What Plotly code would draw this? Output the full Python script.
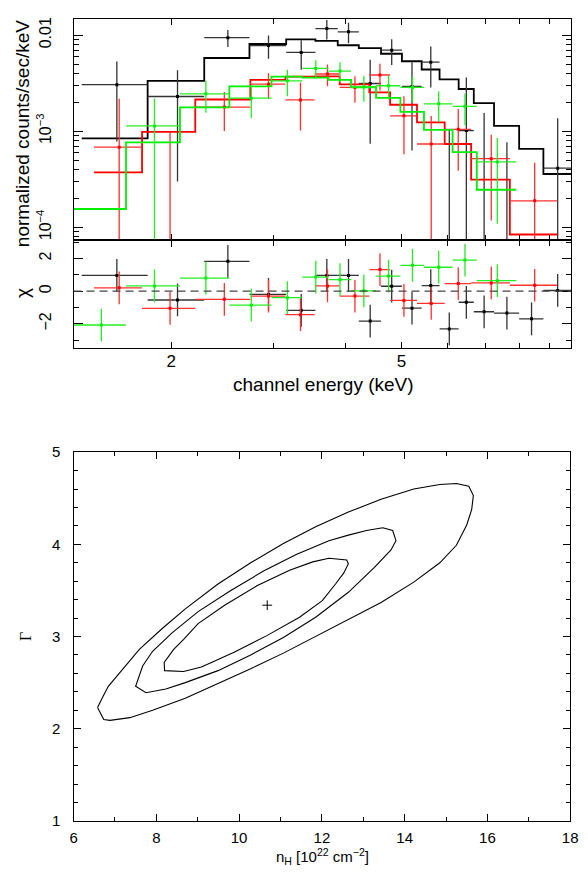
import numpy as np
import plotly.graph_objects as go

# ---------------- spectrum: three data groups (black, red, green) ----------------
# channel bin edges (keV), data (counts/s/keV), 1-sigma errors, folded model, residuals (chi)
black_edges = [1.40, 1.82, 2.28, 2.73, 3.16, 3.55, 3.88, 4.22, 4.61, 5.01, 5.42, 5.82, 6.28, 6.67, 7.23, 7.99, 8.80, 9.83]
black_flux = [3.05e-3, 2.30e-3, 9.41e-3, 7.79e-3, 6.61e-3, 1.171e-2, 1.083e-2, 3.14e-3, 6.98e-3, 2.93e-3,
              5.23e-3, -8.3e-4, 1.016e-3, -2.0e-5, -3.1e-4, -8.7e-4, 4.13e-4]
black_err = [2.27e-3, 2.0e-3, 1.9e-3, 2.1e-3, 2.25e-3, 2.7e-3, 2.6e-3, 2.4e-3, 2.1e-3, 2.3e-3,
             2.37e-3, 1.86e-3, 2.6e-3, 1.57e-3, 1.08e-3, 9.0e-4, 9.5e-4]
black_model = [8.42e-4, 3.345e-3, 5.785e-3, 8.09e-3, 9.04e-3, 8.73e-3, 7.85e-3, 7.31e-3, 6.40e-3, 5.35e-3,
               4.39e-3, 3.47e-3, 2.75e-3, 1.96e-3, 1.135e-3, 6.55e-4, 3.59e-4]
black_resid = [0.96, -0.54, 1.82, -0.2, -1.17, 0.96, 0.96, -1.83, 0.3, -1.04, 0.34, -2.31, -0.68, -1.26, -1.34, -1.69, 0.04]

red_edges = [1.47, 1.78, 2.20, 2.74, 3.15, 3.54, 3.91, 4.40, 4.78, 5.32, 5.94, 6.60, 7.70, 9.30]
red_flux = [6.82e-4, -1.4e-5, 1.786e-3, 3.09e-3, 2.12e-3, 3.94e-3, 2.86e-3, 3.85e-3, 1.446e-3, 7.37e-4,
            1.048e-3, 5.18e-4, 1.886e-4]
red_err = [1.49e-3, 1.0e-3, 7.8e-4, 9.3e-4, 1.1e-3, 1.0e-3, 8.8e-4, 1.2e-3, 8.7e-4, 7.0e-4, 6.6e-4, 4.0e-4, 2.82e-4]
red_model = [3.73e-4, 9.86e-4, 2.14e-3, 3.42e-3, 3.70e-3, 3.73e-3, 3.07e-3, 2.54e-3, 1.886e-3, 1.235e-3,
             7.37e-4, 3.14e-4, 8.42e-5]
red_resid = [0.2, -1.05, -0.5, -0.3, -1.44, 0.32, -0.3, 1.32, -0.57, -0.75, 0.46, 0.5, 0.36]

green_edges = [1.357, 1.67, 2.07, 2.52, 2.98, 3.37, 3.74, 4.09, 4.52, 4.98, 5.47, 6.13, 6.75, 7.90]
green_flux = [-5.2e-5, 1.135e-3, 2.453e-3, 2.207e-3, 3.345e-3, 4.50e-3, 4.23e-3, 2.905e-3, 2.975e-3, 2.86e-3,
              1.93e-3, 1.815e-3, 4.79e-4]
green_err = [1.0e-4, 1.06e-3, 9.0e-4, 8.3e-4, 1.03e-3, 9.8e-4, 1.0e-3, 8.8e-4, 8.3e-4, 8.3e-4, 6.8e-4, 6.6e-4, 3.7e-4]
green_model = [1.551e-4, 7.67e-4, 1.774e-3, 2.93e-3, 3.70e-3, 3.62e-3, 3.42e-3, 2.86e-3, 2.22e-3, 1.589e-3,
               1.033e-3, 6.06e-4, 2.46e-4]
green_resid = [-2.07, 0.32, 0.8, -0.86, -0.4, 0.86, 0.70, 0.02, 0.92, 1.58, 1.46, 1.9, 0.64]

# ---------------- confidence contours (nH [1e22 cm^-2], Gamma) ----------------
c99_nh = [6.58, 6.73, 6.88, 7.36, 7.91, 8.70, 9.49, 10.28, 11.07, 11.85, 12.64, 13.43, 14.22, 14.85, 15.25,
          15.50, 15.62, 15.66, 15.55, 15.25, 14.85, 14.22, 13.43, 12.64, 11.85, 11.07, 10.28, 9.49, 8.70,
          8.15, 7.59, 7.12, 6.84, 6.69]
c99_g = [2.23, 2.10, 2.09, 2.12, 2.20, 2.33, 2.49, 2.65, 2.82, 3.00, 3.18, 3.37, 3.59, 3.80, 3.99,
         4.21, 4.38, 4.53, 4.63, 4.66, 4.65, 4.60, 4.49, 4.35, 4.19, 4.01, 3.80, 3.57, 3.30,
         3.09, 2.86, 2.61, 2.46, 2.33]
c90_nh = [13.47, 13.08, 12.64, 12.17, 11.38, 10.59, 9.80, 9.01, 8.38, 7.91, 7.67, 7.59, 7.50, 7.75, 8.23,
          8.70, 9.49, 10.28, 11.07, 11.85, 12.64, 13.27, 13.67, 13.79, 13.71]
c90_g = [4.18, 4.15, 4.10, 4.04, 3.89, 3.71, 3.50, 3.27, 3.04, 2.84, 2.68, 2.57, 2.46, 2.39, 2.43,
         2.50, 2.63, 2.80, 2.99, 3.21, 3.48, 3.75, 3.94, 4.04, 4.15]
c68_nh = [12.17, 11.78, 11.22, 10.43, 9.65, 9.01, 8.66, 8.42, 8.19, 8.20, 8.66, 9.09, 9.88, 10.67, 11.46,
          12.01, 12.33, 12.53, 12.64, 12.60]
c68_g = [3.85, 3.81, 3.72, 3.55, 3.34, 3.14, 2.97, 2.86, 2.72, 2.63, 2.62, 2.67, 2.83, 3.01, 3.21,
         3.39, 3.57, 3.69, 3.79, 3.83]
best_nh = [10.68]
best_g = [3.34]

# ---------------- figure ----------------
W, H = 588, 873
FONT = "Liberation Sans, Arial, Helvetica, sans-serif"
FLOOR = 1e-7

fig = go.Figure()

series = [
    (black_edges, black_flux, black_err, black_model, black_resid, "#000000", "#333333"),
    (red_edges, red_flux, red_err, red_model, red_resid, "#ff0000", "#ff3030"),
    (green_edges, green_flux, green_err, green_model, green_resid, "#00ee00", "#22ee22"),
]

for edges, flux, err, model, resid, col, barcol in series:
    e = np.array(edges)
    lo, hi = e[:-1], e[1:]
    xc = (lo + hi) / 2
    xh = (hi - lo) / 2
    f = np.array(flux)
    er = np.array(err)
    yp = np.where(f > 0, f, FLOOR)
    up = f + er - yp
    dn = yp - (f - er)
    fig.add_trace(go.Scatter(x=list(e), y=list(model) + [model[-1]], mode="lines",
                             line=dict(shape="hv", color=col, width=1.8),
                             xaxis="x", yaxis="y", hoverinfo="skip"))
    fig.add_trace(go.Scatter(x=xc, y=yp, mode="markers",
                             marker=dict(symbol="square", size=3, color=col),
                             error_x=dict(type="data", array=xh, symmetric=True, width=0,
                                          thickness=1.3, color=barcol),
                             error_y=dict(type="data", array=up, arrayminus=dn, symmetric=False,
                                          width=0, thickness=1.3, color=barcol),
                             xaxis="x", yaxis="y"))
    fig.add_trace(go.Scatter(x=xc, y=resid, mode="markers",
                             marker=dict(symbol="square", size=3, color=col),
                             error_x=dict(type="data", array=xh, symmetric=True, width=0,
                                          thickness=1.3, color=barcol),
                             error_y=dict(type="constant", value=1.0, width=0,
                                          thickness=1.3, color=barcol),
                             xaxis="x2", yaxis="y2"))

for cx, cy in [(c99_nh, c99_g), (c90_nh, c90_g), (c68_nh, c68_g)]:
    fig.add_trace(go.Scatter(x=cx + [cx[0]], y=cy + [cy[0]], mode="lines",
                             line=dict(color="black", width=1.1),
                             xaxis="x3", yaxis="y3"))
fig.add_trace(go.Scatter(x=best_nh, y=best_g, mode="markers",
                         marker=dict(symbol="cross-thin", size=7, line=dict(width=1, color="black")),
                         xaxis="x3", yaxis="y3"))

fig.add_shape(type="line", xref="x2 domain", yref="y2", x0=0, x1=1, y0=0, y1=0,
              line=dict(color="#444444", width=1.3, dash="8px,5px"))

common = dict(showline=True, linecolor="black", linewidth=1.3, mirror="ticks", ticks="inside",
              tickcolor="black", showgrid=False, zeroline=False)

xrange_log = [np.log10(1.355), np.log10(9.83)]
xdom = [71 / W, 579 / W]
ytop_minor = [k * 10.0 ** p for p in (-5, -4, -3, -2) for k in range(2, 10)]

fig.update_layout(
    width=W, height=H, margin=dict(l=0, r=0, t=0, b=0),
    paper_bgcolor="white", plot_bgcolor="white", showlegend=False,
    font=dict(family=FONT, size=16, color="black"),
    xaxis=dict(type="log", range=xrange_log, domain=xdom, anchor="y",
               tickvals=[2, 5], ticklen=6, tickwidth=1.2, showticklabels=False,
               minor=dict(tickvals=[3, 4, 6, 7, 8, 9], ticks="inside", ticklen=5, tickcolor="black"),
               **common),
    yaxis=dict(type="log", range=[-4.136, -1.83], domain=[1 - 236 / H, 1 - 10 / H], anchor="x",
               tickvals=[1e-4, 1e-3, 1e-2],
               ticktext=["10<sup>\u22124</sup>", "10<sup>\u22123</sup>", "0.01"],
               tickangle=-90, ticklen=9, tickwidth=1.2, ticklabelstandoff=15,
               minor=dict(tickvals=ytop_minor, ticks="inside", ticklen=5, tickcolor="black"),
               tickfont=dict(size=16), **common),
    xaxis2=dict(type="log", range=xrange_log, domain=xdom, anchor="y2",
                tickvals=[2, 5], ticktext=["2", "5"], ticklen=6, tickwidth=1.2, ticklabelstandoff=-3,
                minor=dict(tickvals=[3, 4, 6, 7, 8, 9], ticks="inside", ticklen=5, tickcolor="black"),
                tickfont=dict(size=17), **common),
    yaxis2=dict(range=[-3.49, 3.1], domain=[1 - 346 / H, 1 - 236 / H], anchor="x2",
                tickvals=[-2, 0, 2], ticktext=["\u22122", "0", "2"], tickangle=-90,
                ticklen=9, tickwidth=1.2, ticklabelstandoff=15,
                minor=dict(tickvals=[-3, -1, 1, 3], ticks="inside", ticklen=5, tickcolor="black"),
                tickfont=dict(size=16), **common),
    xaxis3=dict(range=[6, 18], domain=[71 / W, 578 / W], anchor="y3",
                tick0=6, dtick=2, ticklen=7, tickwidth=1, ticklabelstandoff=3,
                minor=dict(dtick=1, ticks="inside", ticklen=4, tickcolor="black"),
                tickfont=dict(size=15), **common),
    yaxis3=dict(range=[1, 5], domain=[1 - 828 / H, 1 - 452 / H], anchor="x3",
                tick0=1, dtick=1, ticklen=7, tickwidth=1, ticklabelstandoff=9,
                minor=dict(dtick=0.2, ticks="inside", ticklen=4, tickcolor="black"),
                tickfont=dict(size=15), **common),
)

ann = [
    dict(text="normalized counts/sec/keV", x=19 / W, y=1 - 127 / H, textangle=-90, font=dict(size=19)),
    dict(text="\u03c7", x=19 / W, y=1 - 290 / H, textangle=-90, font=dict(size=19)),
    dict(text="channel energy (keV)", x=326 / W, y=1 - 383 / H, font=dict(size=19)),
    dict(text="n<sub>H</sub> [10<sup>22</sup> cm<sup>\u22122</sup>]", x=325 / W, y=1 - 864 / H,
         font=dict(size=15)),
    dict(text="\u0393", x=22 / W, y=1 - 640 / H, textangle=-90,
         font=dict(size=16, family="Liberation Serif, Times New Roman, serif")),
]
for a in ann:
    fig.add_annotation(xref="paper", yref="paper", showarrow=False, xanchor="center", yanchor="middle", **a)

fig.write_html("out.html",
               config={"displayModeBar": False},
               post_script="document.body.style.margin='0';document.body.style.padding='0';"
                           "document.documentElement.style.overflow='hidden';")
